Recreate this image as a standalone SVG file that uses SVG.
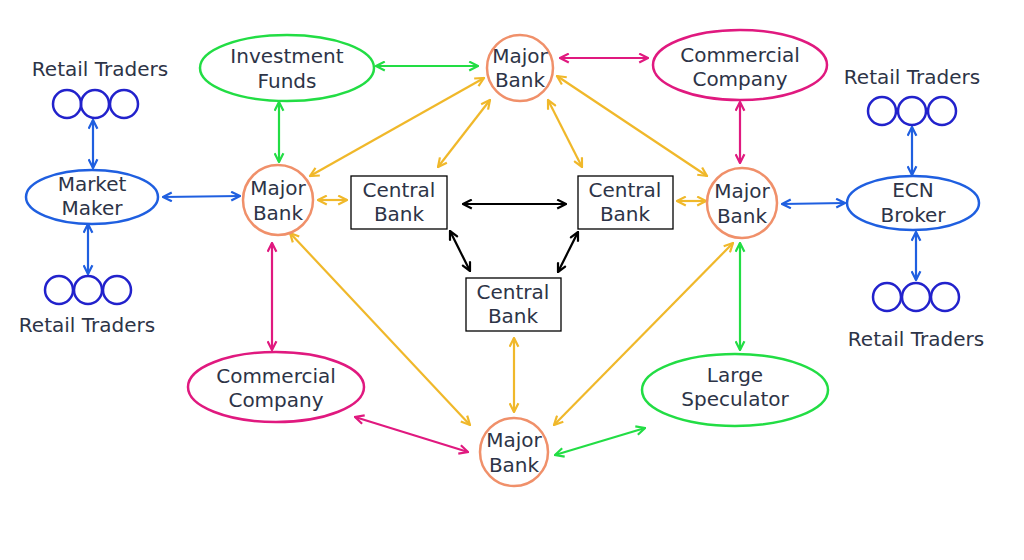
<svg xmlns="http://www.w3.org/2000/svg" width="1024" height="560" viewBox="0 0 1024 560">
<defs>
<style>
text{font-family:"DejaVu Sans",Verdana,sans-serif;font-size:20px;fill:#2d3447;text-anchor:middle}
.bank{fill:#fff;stroke:#f0906a;stroke-width:2.5}
.cb{fill:#fff;stroke:#000;stroke-width:1.3}
.eg{fill:#fff;stroke:#22dd44;stroke-width:2.5}
.ep{fill:#fff;stroke:#e0197f;stroke-width:2.5}
.eb{fill:#fff;stroke:#1f5fe0;stroke-width:2.5}
.rt{fill:none;stroke:#2222cc;stroke-width:2.5}
.c line{stroke-width:2.2}
.b{stroke:#1f5fe0;marker-start:url(#mb);marker-end:url(#mb)}
.g{stroke:#22dd44;marker-start:url(#mg);marker-end:url(#mg)}
.p{stroke:#e0197f;marker-start:url(#mp);marker-end:url(#mp)}
.y{stroke:#f0b82a;marker-start:url(#my);marker-end:url(#my)}
.k{stroke:#000;marker-start:url(#mk);marker-end:url(#mk)}
</style>
<marker id="mb" viewBox="0 0 10 10" refX="9" refY="5" markerWidth="5" markerHeight="5" orient="auto-start-reverse"><path d="M1,1L9,5L1,9" fill="none" stroke="#1f5fe0" stroke-width="2"/></marker>
<marker id="mg" viewBox="0 0 10 10" refX="9" refY="5" markerWidth="5" markerHeight="5" orient="auto-start-reverse"><path d="M1,1L9,5L1,9" fill="none" stroke="#22dd44" stroke-width="2"/></marker>
<marker id="mp" viewBox="0 0 10 10" refX="9" refY="5" markerWidth="5" markerHeight="5" orient="auto-start-reverse"><path d="M1,1L9,5L1,9" fill="none" stroke="#e0197f" stroke-width="2"/></marker>
<marker id="my" viewBox="0 0 10 10" refX="9" refY="5" markerWidth="5" markerHeight="5" orient="auto-start-reverse"><path d="M1,1L9,5L1,9" fill="none" stroke="#f0b82a" stroke-width="2"/></marker>
<marker id="mk" viewBox="0 0 10 10" refX="9" refY="5" markerWidth="5" markerHeight="5" orient="auto-start-reverse"><path d="M1,1L9,5L1,9" fill="none" stroke="#000" stroke-width="2"/></marker>
</defs>
<g id="connectors" class="c">
<line class="b" x1="93" y1="120" x2="93" y2="168"/>
<line class="b" x1="88" y1="224" x2="88" y2="274"/>
<line class="b" x1="163" y1="197" x2="240" y2="196"/>
<line class="b" x1="782" y1="204" x2="845" y2="203"/>
<line class="b" x1="912" y1="127" x2="912" y2="175"/>
<line class="b" x1="916" y1="232" x2="916" y2="280"/>
<line class="g" x1="376" y1="66" x2="478" y2="66"/>
<line class="g" x1="279" y1="102" x2="279" y2="162"/>
<line class="g" x1="740" y1="243" x2="740" y2="350"/>
<line class="g" x1="555" y1="455" x2="645" y2="428"/>
<line class="p" x1="560" y1="58" x2="648" y2="58"/>
<line class="p" x1="740" y1="102" x2="740" y2="163"/>
<line class="p" x1="272" y1="243" x2="272" y2="350"/>
<line class="p" x1="355" y1="417" x2="468" y2="452"/>
<line class="y" x1="318" y1="200" x2="347" y2="200"/>
<line class="y" x1="310" y1="176" x2="484" y2="78"/>
<line class="y" x1="438" y1="167" x2="490" y2="100"/>
<line class="y" x1="548" y1="100" x2="582" y2="167"/>
<line class="y" x1="557" y1="76" x2="707" y2="176"/>
<line class="y" x1="677" y1="201" x2="706" y2="201"/>
<line class="y" x1="290" y1="233" x2="470" y2="425"/>
<line class="y" x1="554" y1="425" x2="733" y2="243"/>
<line class="y" x1="514" y1="338" x2="514" y2="412"/>
<line class="k" x1="463" y1="204" x2="566" y2="204"/>
<line class="k" x1="450" y1="231" x2="470" y2="271"/>
<line class="k" x1="578" y1="232" x2="558" y2="272"/>
</g>
<g id="bank-top"><circle class="bank" cx="520" cy="68" r="33"/><text x="520" y="63">Major</text><text x="520" y="87">Bank</text></g>
<g id="bank-left"><circle class="bank" cx="278" cy="200" r="35"/><text x="278" y="195">Major</text><text x="278" y="220">Bank</text></g>
<g id="bank-right"><circle class="bank" cx="742" cy="203" r="35"/><text x="742" y="198">Major</text><text x="742" y="223">Bank</text></g>
<g id="bank-bottom"><circle class="bank" cx="514" cy="452" r="34"/><text x="514" y="447">Major</text><text x="514" y="472">Bank</text></g>
<g id="cb-left"><rect class="cb" x="351" y="176" width="96" height="53"/><text x="399" y="197">Central</text><text x="399" y="221">Bank</text></g>
<g id="cb-right"><rect class="cb" x="578" y="176" width="95" height="53"/><text x="625" y="197">Central</text><text x="625" y="221">Bank</text></g>
<g id="cb-bottom"><rect class="cb" x="466" y="278" width="95" height="53"/><text x="513" y="299">Central</text><text x="513" y="323">Bank</text></g>
<g id="investment-funds"><ellipse class="eg" cx="287" cy="68" rx="87" ry="33"/><text x="287" y="63">Investment</text><text x="287" y="88">Funds</text></g>
<g id="commercial-top"><ellipse class="ep" cx="740" cy="65" rx="87" ry="35"/><text x="740" y="62">Commercial</text><text x="740" y="86">Company</text></g>
<g id="commercial-bottom"><ellipse class="ep" cx="276" cy="387" rx="88" ry="35"/><text x="276" y="383">Commercial</text><text x="276" y="407">Company</text></g>
<g id="large-speculator"><ellipse class="eg" cx="735" cy="390" rx="93" ry="36"/><text x="735" y="382">Large</text><text x="735" y="406">Speculator</text></g>
<g id="market-maker"><ellipse class="eb" cx="92" cy="197" rx="66" ry="27"/><text x="92" y="191">Market</text><text x="92" y="215">Maker</text></g>
<g id="ecn-broker"><ellipse class="eb" cx="913" cy="203" rx="66" ry="27"/><text x="913" y="197">ECN</text><text x="913" y="222">Broker</text></g>
<g id="retail-tl"><text x="100" y="76">Retail Traders</text><circle class="rt" cx="67" cy="104" r="14"/><circle class="rt" cx="95" cy="104" r="14"/><circle class="rt" cx="124" cy="104" r="14"/></g>
<g id="retail-bl"><text x="87" y="332">Retail Traders</text><circle class="rt" cx="59" cy="290" r="14"/><circle class="rt" cx="88" cy="290" r="14"/><circle class="rt" cx="117" cy="290" r="14"/></g>
<g id="retail-tr"><text x="912" y="84">Retail Traders</text><circle class="rt" cx="882" cy="111" r="14"/><circle class="rt" cx="912" cy="111" r="14"/><circle class="rt" cx="942" cy="111" r="14"/></g>
<g id="retail-br"><text x="916" y="346">Retail Traders</text><circle class="rt" cx="887" cy="297" r="14"/><circle class="rt" cx="916" cy="297" r="14"/><circle class="rt" cx="945" cy="297" r="14"/></g>
</svg>
